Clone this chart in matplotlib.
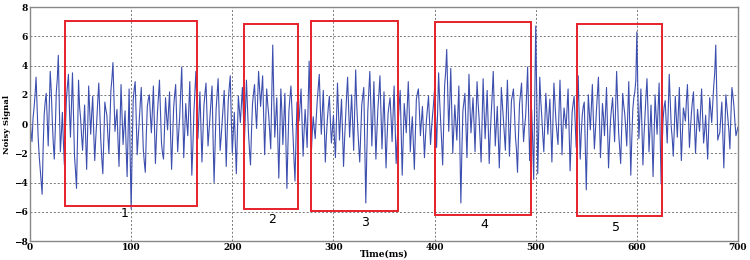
import matplotlib.pyplot as plt
from matplotlib.patches import Rectangle
import numpy as np

# noisy signal in 50 ms blocks
# even milliseconds (0, 2, 4, ...)
block_000 = [0.5, -1.2, 1.1, 3.2, -0.8, -3.0, -4.8, 0.6, 2.1, -1.5, 3.6, 0.3, -2.4,
             2.2, 4.7, -1.9, 0.8, -2.8, 1.7, 3.4, -0.9, 3.5, -2.2, -4.4, 3.0]
block_050 = [0.4, -1.8, 1.3, -3.1, 2.6, -0.7, 1.9, -2.5, 0.2, 2.8, -1.1, -3.4, 1.5,
             0.6, -2.0, 2.3, 4.2, -0.5, 1.0, -2.9, 2.7, -1.4, 0.9, -3.6, 2.4]
block_100 = [-5.8, 1.6, 2.9, -2.1, 0.3, 2.5, -1.7, -3.3, 1.2, 2.0, -0.6, 2.6, -2.7,
             0.8, 3.0, -1.3, -2.4, 1.8, -0.4, 2.2, -3.1, 1.1, 2.7, -1.9, 0.5]
block_150 = [3.9, -2.3, 1.4, -0.8, 2.9, -3.5, 0.7, 3.6, -1.0, 2.2, -2.6, 1.3, 2.8,
             -1.5, 0.4, 2.6, -4.0, 1.0, 3.1, -1.8, 0.2, 2.3, -2.9, 1.6, 3.3]
block_200 = [-2.0, 0.8, -3.4, 1.9, 0.1, 2.5, -1.2, 3.0, -0.6, -2.8, 1.4, 2.7, -0.3,
             3.6, 1.2, 3.3, -2.1, 2.4, 0.6, -1.7, 5.4, -0.9, 1.8, -3.7, 2.4]
block_250 = [-1.4, 2.1, -4.4, 0.9, 2.6, -0.8, -3.9, 1.5, 0.2, 2.4, -2.2, 1.0, -1.6,
             4.3, -2.2, 0.5, -1.0, 1.6, 3.4, -0.7, 2.3, -2.6, 0.3, 1.9, -1.3]
block_300 = [0.6, -2.3, 2.8, -1.1, 1.7, -2.9, 0.4, 3.2, -0.9, 2.0, -1.8, 3.7, -0.2,
             -2.6, 1.3, 2.5, -5.4, 0.9, 3.6, -1.5, 2.9, -2.4, 1.1, 3.3, -1.7]
block_350 = [2.2, -3.0, 0.7, 1.8, -1.2, 2.6, -2.7, 0.1, 2.3, -3.5, 1.4, -0.6, 2.9,
             -1.9, 0.5, -3.1, 1.7, 2.4, -0.8, 1.2, -2.3, 0.3, 1.9, -1.4, 0.6]
block_400 = [2.4, -1.6, 3.5, 0.2, -2.8, 2.7, 5.1, -0.5, 3.8, -2.0, 1.3, -1.1, 2.6,
             -5.4, 0.9, 2.1, -2.3, 3.4, -0.6, 1.8, -1.9, 2.9, 0.4, -2.6, 3.1]
block_450 = [-1.0, 2.3, -2.7, 0.7, 3.6, -1.5, 1.2, -3.0, 2.5, 0.3, -1.8, 3.0, -2.2,
             1.6, 2.4, -0.9, -3.3, 1.4, 2.8, -1.2, 0.5, 3.9, -2.5, 1.0, -3.8]
block_500 = [6.7, -3.4, 3.2, 0.5, -1.9, 2.1, -0.7, 1.7, -2.6, 2.8, 0.2, -1.4, 3.0,
             -2.1, 1.1, -0.3, 2.4, -3.2, 0.8, 1.9, -1.6, 3.3, -2.4, 0.6, 1.5]
block_550 = [-4.5, 2.0, -0.4, 2.7, -1.7, 0.9, 3.2, -2.3, 1.4, -0.8, 2.5, -3.0, 0.3,
             1.8, -1.2, 3.6, -0.6, -2.7, 2.1, 0.7, -1.5, 2.9, -3.5, 1.0, 2.2]
block_600 = [6.3, -1.0, 2.4, -2.8, 0.5, 3.1, -1.9, 1.3, -3.6, 2.0, -0.7, 2.8, -4.1,
             0.4, 1.6, -1.3, 3.4, -0.2, -2.2, 1.9, -0.9, 2.5, -2.5, 1.1, 0.2]
block_650 = [2.7, -1.6, 0.8, 2.2, -2.0, 1.0, -0.5, 2.4, -1.3, 0.6, -2.4, 1.8, 0.1,
             2.6, 5.4, -1.1, -0.6, 1.5, -3.0, 2.0, 0.4, -1.7, 2.5, 1.2, -0.8, -0.2]

# odd milliseconds (1, 3, 5, ...)
odd_000 = [-0.6, 0.4, 2.0, 1.1, -2.1, -3.9, -1.6, 1.5, 0.4, 1.0, 2.3, -1.3, -0.4,
           3.1, 1.2, -0.7, -1.2, -0.3, 2.6, 1.0, 1.4, 0.5, -3.2, -0.9, 1.2]
odd_050 = [-0.8, -0.2, -1.0, -0.4, 0.9, 0.7, -0.6, -1.0, 1.6, 0.8, -2.4, -0.9, 1.0,
           -0.8, 0.2, 3.1, 1.8, 0.3, -1.1, -0.1, 0.6, -0.3, -1.5, -0.6, -2.0]
odd_100 = [-1.8, 2.4, 0.5, -0.9, 1.4, 0.4, -2.6, -0.7, 1.7, 0.6, 0.9, -0.1, -0.9,
           1.9, 0.8, -2.0, -0.3, 0.6, 1.0, -0.8, -0.9, 2.0, 0.3, -0.6, 2.2]
odd_150 = [0.7, -0.4, 0.1, 1.1, -0.2, -1.6, 2.2, 1.2, 0.6, -0.3, -0.6, 2.1, 0.6,
           -0.5, 1.5, -1.0, -1.4, 2.0, 0.6, -0.9, 1.3, 0.0, -0.5, 2.5, 0.4]
odd_200 = [-0.6, -1.4, -0.8, 1.0, 1.3, 0.6, 0.9, 1.2, -1.8, -0.5, 2.1, 1.0, 1.5,
           2.4, 2.3, 0.5, 0.2, 1.4, -0.6, 1.8, 2.0, 0.4, -0.9, -0.6, 0.9]
odd_250 = [0.3, -1.2, -1.5, 1.8, 0.9, -2.4, -1.0, 0.8, 1.3, 0.0, -0.5, -0.2, 1.3,
           1.0, -0.7, -0.3, 0.4, 2.5, 1.2, 0.8, -0.1, -0.9, 1.2, 0.2, -0.4]
odd_300 = [-1.0, 0.3, 0.9, 0.4, -0.5, -1.1, 1.9, 1.1, 0.6, 0.1, 1.0, 1.4, -1.5,
           -0.6, 1.9, -1.5, -2.0, 2.3, 1.2, 0.5, 0.2, -0.5, 2.1, 0.8, 0.3]
odd_350 = [-0.4, -1.0, 1.3, 0.4, 0.7, -0.2, -1.2, 1.3, -0.6, -1.0, 0.5, 1.2, 0.8,
           -0.5, -1.4, -0.6, 2.1, 0.9, 0.2, -0.6, -0.9, 1.1, 0.2, -0.3, 1.4]
odd_400 = [0.5, 0.8, 1.6, -1.2, 0.1, 3.6, 2.4, 1.5, 0.9, -0.3, 0.1, 0.7, -1.4,
           -1.8, 1.5, -0.1, 0.4, 1.2, 0.6, 0.1, 0.6, 1.5, -1.0, 0.2, 0.9]
odd_450 = [0.6, 0.0, -0.8, 2.0, 1.1, -0.1, -0.8, -0.6, 1.4, -0.7, 0.8, 0.6, -0.4,
           2.0, 0.7, -1.8, -0.7, 2.1, 0.6, -0.2, 2.0, 0.8, -0.6, -1.2, 1.5]
odd_500 = [2.0, -0.4, 1.6, -0.8, 0.2, 0.8, 0.6, -0.4, 0.1, 1.5, -0.6, 0.8, 0.7,
           -0.2, 0.4, 1.0, -0.5, -1.1, 1.4, 0.2, 0.9, 0.4, -0.7, 1.2, -1.5]
odd_550 = [-1.0, 0.8, 1.1, 0.3, -0.5, 2.0, 0.4, -0.6, 0.5, 0.9, -0.4, -1.2, 1.1,
           0.3, 1.2, 1.5, -1.6, -0.4, 1.3, -0.3, 0.7, -0.2, -1.0, 1.8, 3.0]
odd_600 = [2.2, 0.6, -0.3, -0.9, 1.9, 0.9, -0.4, -0.8, -1.0, 0.6, 1.1, -0.6, -1.5,
           1.2, 0.1, 0.9, 1.6, -1.0, -0.4, 0.5, 0.8, -0.2, -0.6, 0.7, 1.6]
odd_650 = [0.5, -0.3, 1.6, -0.1, -0.4, 0.2, 0.9, 0.6, -0.5, -0.9, -0.2, 1.0, 1.3,
           3.5, 2.0, -0.8, 0.5, -0.8, -0.6, 1.2, -0.5, 0.6, 1.9, 0.1, -0.5]

even_vals = (block_000 + block_050 + block_100 + block_150 + block_200 + block_250 +
             block_300 + block_350 + block_400 + block_450 + block_500 + block_550 +
             block_600 + block_650)
odd_vals = (odd_000 + odd_050 + odd_100 + odd_150 + odd_200 + odd_250 + odd_300 +
            odd_350 + odd_400 + odd_450 + odd_500 + odd_550 + odd_600 + odd_650)

signal = np.empty(len(even_vals) + len(odd_vals))
signal[0::2] = even_vals
signal[1::2] = odd_vals
time_ms = np.arange(len(signal))

# highlighted windows
box_x0 = [35, 212, 278, 400, 541]
box_x1 = [165, 265, 364, 495, 625]
box_y0 = [-5.6, -5.8, -5.95, -6.2, -6.3]
box_y1 = [7.05, 6.85, 7.05, 7.0, 6.85]
box_labels = ["1", "2", "3", "4", "5"]
label_x = [94, 239, 331, 449, 579]
label_y = [-6.1, -6.5, -6.7, -6.85, -7.1]

fig = plt.figure(figsize=(7.5, 2.6), dpi=100)
ax = fig.add_axes([0.04, 0.073, 0.944, 0.9])

ax.plot(time_ms, signal, color='#3d4fae', linewidth=0.8)

for x0, x1, y0, y1 in zip(box_x0, box_x1, box_y0, box_y1):
    ax.add_patch(Rectangle((x0, y0), x1 - x0, y1 - y0, fill=False,
                           edgecolor='#e8202a', linewidth=1.4, zorder=3))
for lab, lx, ly in zip(box_labels, label_x, label_y):
    ax.text(lx, ly, lab, fontsize=9, ha='center', va='center', color='black')

ax.set_xlim(0, 700)
ax.set_ylim(-8, 8)
ax.set_xticks(range(0, 701, 100))
ax.set_yticks(range(-8, 9, 2))
ax.grid(True, linestyle=(0, (2, 2)), color='#777777', linewidth=0.7)
ax.tick_params(length=0, pad=1.5)
for lab in ax.get_xticklabels() + ax.get_yticklabels():
    lab.set_fontsize(6.5)
    lab.set_fontweight('bold')
    lab.set_family('DejaVu Serif')
for sp in ax.spines.values():
    sp.set_color('#888888')
    sp.set_linewidth(1.0)

ax.set_xlabel('Time(ms)', fontsize=6.5, fontweight='bold', family='DejaVu Serif')
ax.xaxis.set_label_coords(0.5, -0.036)
ax.set_ylabel('Noisy Signal', fontsize=6, fontweight='bold', family='DejaVu Serif', labelpad=2)

plt.savefig('out.png', dpi=100)
